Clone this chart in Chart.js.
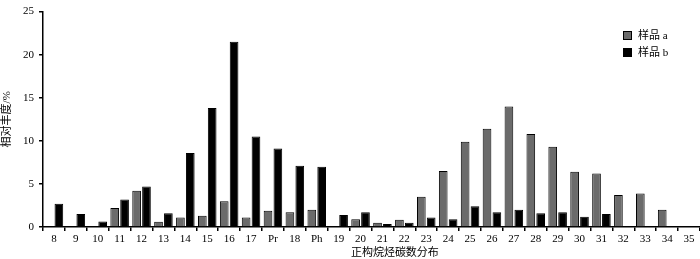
<!DOCTYPE html>
<html>
<head>
<meta charset="utf-8">
<script src="https://cdn.jsdelivr.net/npm/chart.js@4"></script>
<style>
  body { margin: 0; background: #fff; }
  #wrap { width: 700px; height: 259px; }
</style>
</head>
<body>
<div id="wrap"><canvas id="chart"></canvas></div>
<script>
const categories = ["8", "9", "10", "11", "12", "13", "14", "15", "16", "17", "Pr", "18", "Ph", "19", "20", "21", "22", "23", "24", "25", "26", "27", "28", "29", "30", "31", "32", "33", "34", "35"];
const sampleA = [0, 0, 0, 2.2, 4.2, 0.6, 1.1, 1.3, 3.0, 1.1, 1.9, 1.7, 2.0, 0, 0.9, 0.5, 0.85, 3.5, 6.5, 9.9, 11.4, 14.0, 10.8, 9.3, 6.4, 6.2, 3.7, 3.9, 2.0, 0];
const sampleB = [2.7, 1.5, 0.65, 3.2, 4.7, 1.6, 8.6, 13.8, 21.5, 10.5, 9.1, 7.1, 7.0, 1.4, 1.7, 0.35, 0.5, 1.1, 0.9, 2.4, 1.7, 2.0, 1.6, 1.7, 1.2, 1.5, 0, 0, 0, 0];
const yTicks = [0, 5, 10, 15, 20, 25];

const serif = "'Liberation Serif', 'Times New Roman', 'Noto Sans CJK SC', serif";

// legend drawn as a vertical box list inside the plot, top right
const boxLegend = {
  id: "boxLegend",
  afterDraw(chart) {
    const ctx = chart.ctx;
    ctx.save();
    ctx.font = "11px " + serif;
    ctx.textBaseline = "middle";
    chart.data.datasets.forEach((ds, i) => {
      const x = 623, y = 31 + i * 17;
      ctx.fillStyle = ds.backgroundColor;
      ctx.fillRect(x, y, 9, 9);
      ctx.strokeStyle = "#000";
      ctx.lineWidth = 1;
      ctx.strokeRect(x + 0.5, y + 0.5, 8, 8);
      ctx.fillStyle = "#000";
      ctx.fillText(ds.label, x + 15, y + 5);
    });
    ctx.restore();
  }
};

new Chart(document.getElementById("chart"), {
  type: "bar",
  data: {
    labels: categories,
    datasets: [
      {
        label: "样品 a",
        data: sampleA,
        backgroundColor: "#6b6b6b",
        borderColor: "#000",
        borderWidth: 1,
        categoryPercentage: 0.9,
        barPercentage: 0.88,
      },
      {
        label: "样品 b",
        data: sampleB,
        backgroundColor: "#000",
        borderColor: "#000",
        borderWidth: 1,
        categoryPercentage: 0.9,
        barPercentage: 0.88,
      },
    ],
  },
  options: {
    responsive: true,
    maintainAspectRatio: false,
    animation: false,
    layout: { padding: { top: 3, right: 0, bottom: 0, left: 0 } },
    plugins: {
      legend: { display: false },
      tooltip: { enabled: false },
    },
    scales: {
      x: {
        afterFit: (scale) => { scale.height = 32; },
        border: { display: true, color: "#000", width: 1.5 },
        grid: {
          offset: true,
          drawOnChartArea: false,
          drawTicks: true,
          tickLength: 4,
          color: "#000",
          lineWidth: 1.5,
        },
        ticks: {
          color: "#000",
          padding: 2,
          maxRotation: 0,
          autoSkip: false,
          font: { family: serif, size: 11 },
        },
        title: {
          display: true,
          text: "                 正构烷烃碳数分布",
          color: "#000",
          padding: { top: 0, bottom: 0 },
          font: { family: serif, size: 11, lineHeight: 1.1 },
        },
      },
      y: {
        min: 0,
        max: 25,
        afterFit: (scale) => { scale.width = 43; },
        afterBuildTicks: (scale) => { scale.ticks = yTicks.map((v) => ({ value: v })); },
        border: { display: true, color: "#000", width: 1.5 },
        grid: {
          drawOnChartArea: false,
          drawTicks: true,
          tickLength: 4,
          color: "#000",
          lineWidth: 1.5,
        },
        ticks: {
          color: "#000",
          padding: 5,
          font: { family: serif, size: 11 },
        },
        title: {
          display: true,
          text: "相对丰度/%",
          color: "#000",
          padding: { top: 1, bottom: 0 },
          font: { family: serif, size: 11 },
        },
      },
    },
  },
  plugins: [boxLegend],
});
</script>
</body>
</html>
